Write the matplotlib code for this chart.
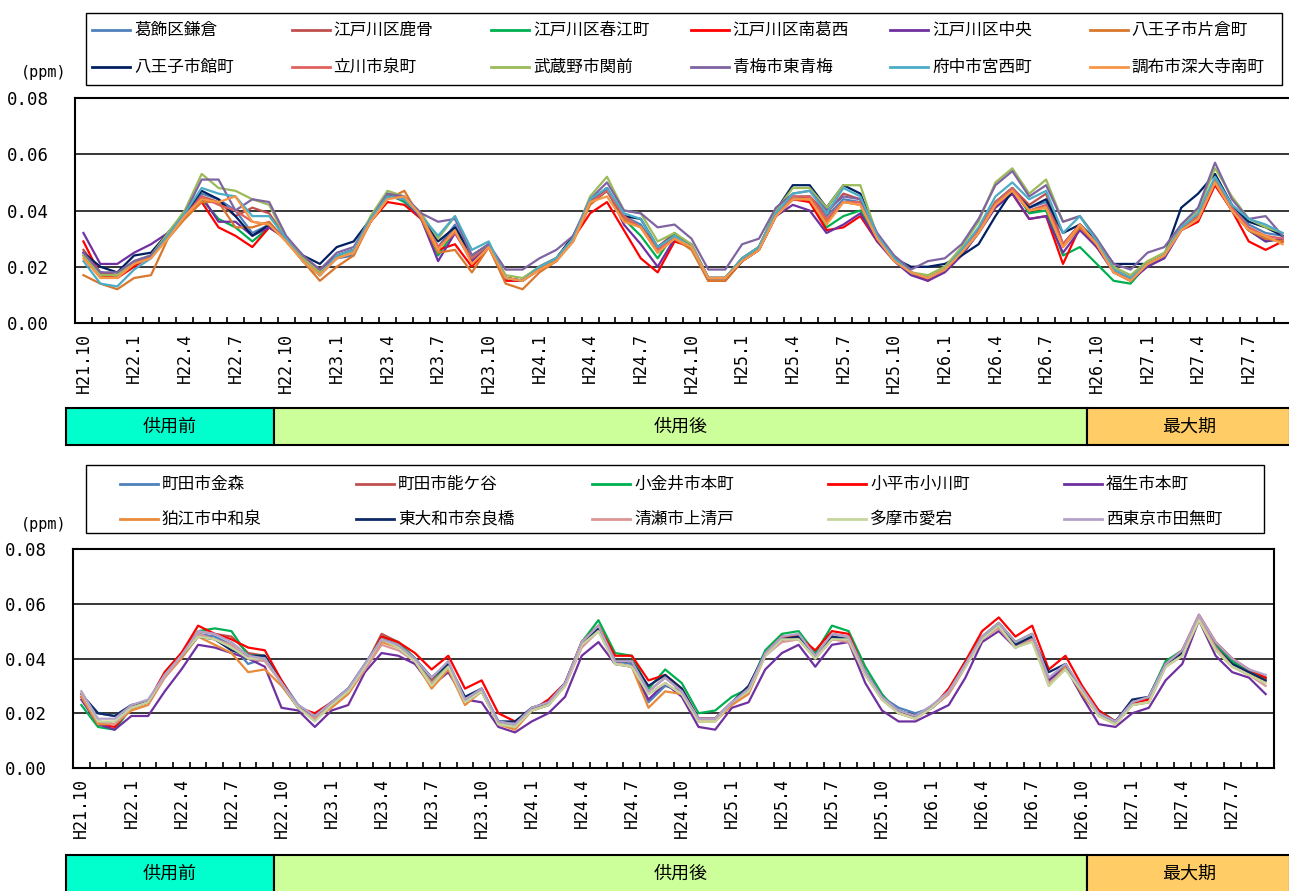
import numpy as np
import matplotlib
matplotlib.use("Agg")
import matplotlib.pyplot as plt
from matplotlib.patches import Rectangle
from matplotlib.lines import Line2D

plt.rcParams['font.family'] = ['Noto Sans CJK JP', 'DejaVu Sans']

# monthly means, H21.10 -> H27.9 (72 months), values in ppb (= ppm x 1000)
n_months = 72
tick_labels = ["H21.10", "H22.1", "H22.4", "H22.7", "H22.10", "H23.1", "H23.4", "H23.7",
               "H23.10", "H24.1", "H24.4", "H24.7", "H24.10", "H25.1", "H25.4", "H25.7",
               "H25.10", "H26.1", "H26.4", "H26.7", "H26.10", "H27.1", "H27.4", "H27.7"]

period_names = ["供用前", "供用後", "最大期"]
period_months = [12, 48, 12]
period_colors = ["#00FFCC", "#CCFF99", "#FFCC66"]

# ---- upper chart ----
katsushika_kamakura = [25,18,17,21,24,32,39,46,44,40,32,35, 30,23,17,23,24,37,45,44,38,27,35,23,
                       28,16,15,20,23,30,43,48,38,35,26,31, 27,16,16,23,27,39,45,45,38,44,43,30,
                       23,18,16,19,25,32,43,48,41,43,28,35, 28,19,16,21,24,34,38,51,42,35,32,31]
edogawa_shishibone = [26,18,17,22,24,31,40,45,43,38,41,39, 30,22,18,24,26,37,45,45,38,27,33,22,
                      27,16,15,20,23,30,43,48,37,34,27,32, 27,16,16,23,27,39,44,45,39,46,44,30,
                      23,18,16,19,26,33,43,48,42,46,28,35, 29,19,16,21,24,34,38,51,41,33,30,29]
edogawa_harue = [24,17,17,21,24,31,39,44,37,34,29,34, 30,22,17,24,26,37,46,43,37,24,33,22,
                 28,16,15,20,23,30,44,47,37,31,23,32, 27,16,16,23,27,39,44,44,34,38,40,30,
                 23,18,16,19,26,33,43,48,39,40,24,27, 21,15,14,21,24,34,38,50,40,33,29,30]
edogawa_minamikasai = [29,17,16,20,24,31,38,43,34,31,27,34, 30,22,17,24,25,36,43,42,37,26,28,20,
                       27,15,15,19,22,30,39,43,33,23,18,29, 27,15,15,22,26,38,44,43,33,34,38,29,
                       23,18,15,19,25,33,42,46,37,38,21,34, 27,19,15,21,24,33,36,49,40,29,26,29]
edogawa_chuo = [32,21,21,25,28,32,39,45,36,36,31,34, 30,23,19,24,26,37,45,44,37,22,32,22,
                27,16,15,20,23,30,43,48,35,28,20,30, 27,16,16,22,26,38,42,40,32,35,39,29,
                22,17,15,18,24,32,41,46,37,38,25,33, 27,18,15,20,23,33,37,50,40,33,29,30]
hachioji_katakura = [17,14,12,16,17,30,37,43,43,34,34,36, 29,22,15,20,24,36,44,47,37,25,26,18,
                     27,14,12,18,22,29,42,47,37,34,25,30, 26,15,15,22,26,38,44,44,36,43,42,30,
                     23,18,16,19,25,32,42,47,40,41,27,34, 28,18,15,21,24,33,37,50,40,33,30,29]
hachioji_tatemachi = [25,20,18,24,25,32,39,47,44,38,31,35, 30,24,21,27,29,37,45,44,38,29,34,24,
                      28,16,15,20,23,31,43,47,38,37,27,31, 28,16,16,22,27,40,49,49,41,49,46,31,
                      23,20,20,21,24,28,38,47,41,44,32,35, 29,21,21,21,24,41,46,53,42,36,34,31]
tachikawa_izumi = [24,17,17,21,24,31,38,45,42,40,36,35, 30,23,18,23,25,36,45,44,38,27,32,23,
                   28,16,15,20,23,30,43,47,38,34,26,31, 27,16,16,23,27,39,45,45,37,43,43,30,
                   23,18,16,19,26,33,43,48,40,42,28,35, 28,19,16,21,24,34,38,51,41,34,31,30]
musashino_sekimae = [24,17,17,22,24,32,40,53,48,47,44,42, 30,23,18,23,26,38,47,45,39,30,38,24,
                     28,17,16,20,23,30,45,52,40,39,29,32, 28,16,16,23,27,40,48,48,41,49,49,31,
                     23,18,17,20,27,36,50,55,46,51,36,38, 30,20,17,22,25,35,40,55,45,37,34,32]
ome_higashiome = [25,18,18,22,24,31,39,51,51,40,44,43, 31,24,19,25,27,37,46,45,39,36,37,24,
                  28,19,19,23,26,31,44,50,40,39,34,35, 30,19,19,28,30,41,46,47,40,45,44,32,
                  24,19,22,23,28,37,49,54,45,49,36,38, 30,21,19,25,27,35,41,57,44,37,38,31]
fuchu_miyanishi = [22,14,13,19,23,31,39,48,46,45,38,38, 30,22,17,24,26,37,45,44,38,31,38,26,
                   29,16,15,20,23,30,44,48,39,37,27,31, 27,16,16,23,27,39,46,47,39,48,45,31,
                   23,18,16,19,26,34,45,50,44,47,32,38, 29,19,16,21,24,34,39,52,42,37,35,32]
chofu_jindaiji = [23,16,16,21,23,30,38,44,43,45,36,35, 29,22,17,23,25,36,44,45,38,26,33,21,
                  27,16,15,19,22,29,43,45,36,34,25,30, 27,16,16,22,26,38,44,44,35,43,42,30,
                  22,18,16,19,25,32,42,47,40,41,27,35, 28,18,15,21,24,33,37,50,40,33,31,28]

top_names = ["葛飾区鎌倉", "江戸川区鹿骨", "江戸川区春江町", "江戸川区南葛西", "江戸川区中央", "八王子市片倉町",
             "八王子市館町", "立川市泉町", "武蔵野市関前", "青梅市東青梅", "府中市宮西町", "調布市深大寺南町"]
top_series = [katsushika_kamakura, edogawa_shishibone, edogawa_harue, edogawa_minamikasai,
              edogawa_chuo, hachioji_katakura, hachioji_tatemachi, tachikawa_izumi,
              musashino_sekimae, ome_higashiome, fuchu_miyanishi, chofu_jindaiji]
top_colors = ["#4F81BD", "#C0504D", "#00B050", "#FF0000", "#7030A0", "#D9782D",
              "#002060", "#E0625E", "#9BBB59", "#8064A2", "#4BACC6", "#F79646"]

# ---- lower chart ----
machida_kanamori = [27,20,19,23,24,34,41,49,48,45,38,40, 32,23,19,24,29,37,47,45,40,33,38,24,
                    28,17,16,22,23,31,45,51,39,38,24,30, 28,18,18,24,28,42,47,48,41,48,47,35,
                    26,22,20,22,28,38,47,52,45,48,31,37, 28,20,17,23,26,38,42,55,45,39,35,33]
machida_nogaya = [26,17,16,22,24,35,42,50,49,48,42,41, 31,22,18,23,28,37,49,46,40,32,39,24,
                  29,16,15,21,23,31,46,52,39,39,28,33, 28,18,18,24,28,42,48,48,41,49,48,34,
                  26,20,19,22,28,38,48,53,46,49,32,38, 28,20,17,24,25,38,42,55,45,39,35,32]
koganei_honcho = [23,15,14,22,24,34,41,50,51,50,41,41, 31,22,18,23,28,37,48,46,40,31,38,24,
                  28,16,15,21,23,31,46,54,42,41,29,36, 31,20,21,26,29,43,49,50,42,52,50,37,
                  27,20,19,22,28,39,48,53,46,49,32,38, 28,21,17,24,26,39,43,55,45,39,35,33]
kodaira_ogawa = [26,16,15,22,24,35,42,52,49,47,44,43, 32,22,20,24,28,37,48,46,42,36,41,29,
                 32,20,17,21,25,31,46,52,41,41,32,34, 29,18,18,24,28,42,48,48,43,50,49,35,
                 26,20,19,22,29,39,50,55,48,52,36,41, 30,21,17,24,25,38,43,56,46,40,36,33]
fussa_honcho = [25,16,14,19,19,28,36,45,44,42,40,37, 22,21,15,21,23,35,42,41,38,30,35,25,
                24,15,13,17,20,26,41,46,38,37,25,31, 26,15,14,22,24,36,42,45,37,45,46,31,
                21,17,17,20,23,33,46,50,44,47,32,37, 26,16,15,20,22,32,38,54,41,35,33,27]
komae_izumi = [26,16,16,21,23,33,40,48,45,42,35,36, 30,22,18,22,27,36,46,44,39,29,36,23,
               28,16,14,21,23,30,45,51,38,37,22,28, 27,17,17,23,27,41,47,47,40,47,47,34,
               25,20,18,22,27,37,47,52,44,47,30,37, 27,19,16,23,24,37,41,54,43,37,34,32]
higashiyamato_narahashi = [27,20,19,23,24,34,41,48,47,43,41,41, 31,22,19,24,29,38,47,45,40,33,38,26,
                           29,17,17,22,24,31,45,51,39,39,30,34, 29,18,18,24,30,42,47,48,41,48,47,35,
                           26,21,19,22,28,38,47,52,45,48,35,38, 28,20,17,25,26,38,42,55,44,38,35,32]
kiyose_kamikiyoto = [27,17,16,22,24,33,41,49,47,45,40,39, 31,22,18,23,28,36,45,43,39,31,37,24,
                     28,16,15,21,23,30,44,50,38,37,27,31, 27,18,18,24,28,41,46,47,40,47,46,34,
                     25,20,18,22,27,37,47,51,44,47,31,36, 28,19,16,23,24,37,41,55,44,37,34,30]
tama_atago = [28,17,17,22,24,34,41,48,47,44,40,40, 31,22,17,23,28,37,47,44,39,30,37,24,
              28,16,15,21,23,30,45,50,38,37,27,31, 27,17,17,24,28,41,47,47,40,47,47,34,
              25,20,18,22,28,37,47,52,44,46,30,36, 28,19,16,23,24,37,41,54,43,37,34,31]
nishitokyo_tanashi = [28,18,18,23,25,34,41,50,49,46,41,40, 31,23,19,24,29,38,47,45,40,33,39,25,
                      29,17,16,22,24,31,46,52,39,39,28,33, 28,18,18,24,29,42,48,49,41,49,48,35,
                      26,21,19,23,28,38,48,53,46,49,33,38, 29,20,17,24,26,38,43,56,46,40,36,34]

bot_names = ["町田市金森", "町田市能ケ谷", "小金井市本町", "小平市小川町", "福生市本町",
             "狛江市中和泉", "東大和市奈良橋", "清瀬市上清戸", "多摩市愛宕", "西東京市田無町"]
bot_series = [machida_kanamori, machida_nogaya, koganei_honcho, kodaira_ogawa, fussa_honcho,
              komae_izumi, higashiyamato_narahashi, kiyose_kamikiyoto, tama_atago, nishitokyo_tanashi]
bot_colors = ["#4F81BD", "#C0504D", "#00B050", "#FF0000", "#7030A0",
              "#E98A3A", "#0E2A66", "#D99694", "#C3D69B", "#B3A2C7"]

for s in top_series + bot_series:
    assert len(s) == n_months

W, H = 1289, 891
fig = plt.figure(figsize=(W / 100, H / 100), dpi=100)
x = np.arange(n_months)


def px(x0, y0, x1, y1):
    # pixel box -> figure rect
    return [x0 / W, 1 - y1 / H, (x1 - x0) / W, (y1 - y0) / H]


def plot_panel(rect, series, names, colors):
    ax = fig.add_axes(rect)
    for s, name, c in zip(series, names, colors):
        ax.plot(x, np.array(s) / 1000, color=c, lw=1.6, label=name)
    ax.set_xlim(-0.5, n_months - 0.5)
    ax.set_ylim(0, 0.08)
    ax.set_yticks([0, 0.02, 0.04, 0.06, 0.08])
    ax.set_yticklabels(["0.00", "0.02", "0.04", "0.06", "0.08"], family="DejaVu Sans Mono", fontsize=12.5)
    ax.set_xticks(x[::3])
    ax.set_xticklabels(tick_labels, rotation=90, family="DejaVu Sans Mono", fontsize=12)
    ax.set_xticks(np.arange(-0.5, n_months, 1), minor=True)
    ax.tick_params(axis="x", which="major", length=0, pad=7)
    ax.tick_params(axis="x", which="minor", direction="in", length=4.5, width=1.2)
    ax.tick_params(axis="y", length=0, pad=19)
    ax.grid(axis="y", color="black", lw=1.1)
    ax.set_axisbelow(True)
    for sp in ax.spines.values():
        sp.set_linewidth(1.5)
    return ax


def legend_box(box, names, colors, ncol, x0, dx, rows_y, line_len):
    bx0, by0, bx1, by1 = box
    fig.add_artist(Rectangle((bx0 / W, 1 - by1 / H), (bx1 - bx0) / W, (by1 - by0) / H,
                             transform=fig.transFigure, fill=False, ec="black", lw=1.0))
    for i, (name, c) in enumerate(zip(names, colors)):
        lx = x0 + (i % ncol) * dx
        ly = rows_y[i // ncol]
        fig.add_artist(Line2D([lx / W, (lx + line_len) / W], [1 - ly / H, 1 - ly / H],
                              transform=fig.transFigure, color=c, lw=2))
        fig.text((lx + line_len + 4) / W, 1 - ly / H, name, fontsize=12, va="center", ha="left")


def period_band(y0, y1):
    # band in month units: 供用前 ends at x=274 px, 最大期 starts at x=1087 px
    cat = (1087 - 274) / period_months[1]
    lo = period_months[0] - 0.5 - (274 - 66) / cat
    hi = lo + (1291 - 66) / cat
    ax = fig.add_axes(px(66, y0, 1291, y1))
    ax.set_xlim(lo, hi)
    ax.set_ylim(0, 1)
    ax.axis("off")
    start = -0.5
    for i, (name, m, c) in enumerate(zip(period_names, period_months, period_colors)):
        s = lo if i == 0 else start
        e = start + m
        ax.add_patch(Rectangle((s, 0), e - s, 1, fc=c, ec="black", lw=1.5, clip_on=False))
        ax.text((s + e) / 2, 0.5, name, ha="center", va="center", fontsize=13)
        start = e


# upper
legend_box((86, 13, 1282, 85), top_names, top_colors, 6, 92, 199.5, [30, 67], 38)
fig.text(44 / W, 1 - 73 / H, "(ppm)", ha="center", va="center", family="DejaVu Sans Mono", fontsize=11)
plot_panel(px(75, 98, 1291, 323), top_series, top_names, top_colors)
period_band(408, 445)

# lower
legend_box((86, 465, 1264, 533), bot_names, bot_colors, 5, 120, 236, [484, 519], 38)
fig.text(44 / W, 1 - 524 / H, "(ppm)", ha="center", va="center", family="DejaVu Sans Mono", fontsize=11)
plot_panel(px(73, 549, 1274, 768), bot_series, bot_names, bot_colors)
period_band(855, 893)

plt.savefig("out.png", dpi=100)
plt.close()
